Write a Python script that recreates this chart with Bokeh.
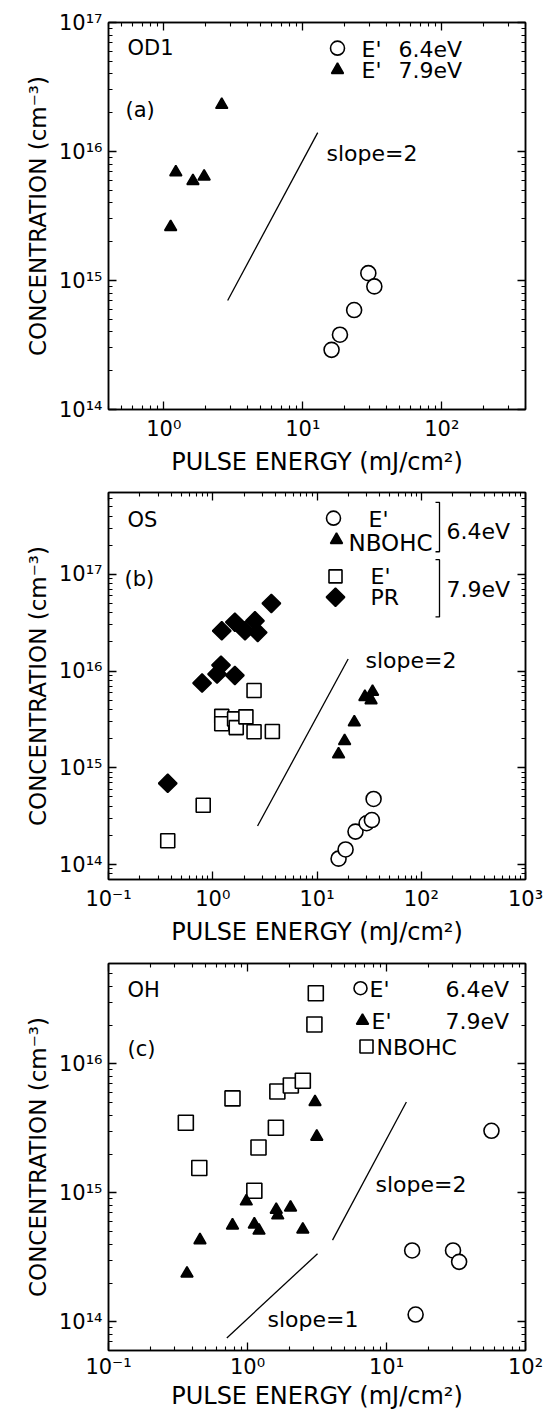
import numpy as np
from bokeh.plotting import figure
from bokeh.layouts import column
from bokeh.models import Range1d, LinearScale, LogAxis, FixedTicker, CustomJSTickFormatter
from bokeh.core.properties import value
from bokeh.embed import file_html
from bokeh.resources import INLINE

FONT = "DejaVu Sans"

# ---------------- Panel (a) OD1 ----------------
a_e64_x = [16.1, 18.5, 23.4, 29.6, 32.7]
a_e64_y = [2.9e14, 3.8e14, 5.9e14, 1.14e15, 9.0e14]
a_e79_x = [1.12, 1.22, 1.62, 1.95, 2.61]
a_e79_y = [2.6e15, 6.9e15, 5.9e15, 6.4e15, 2.3e16]
a_slope2_x = [2.88, 12.8]
a_slope2_y = [7.0e14, 1.4e16]

# ---------------- Panel (b) OS ----------------
b_e64_x = [16.1, 18.8, 23.4, 29.9, 33.6, 34.9]
b_e64_y = [1.15e14, 1.43e14, 2.19e14, 2.67e14, 2.88e14, 4.76e14]
b_nbohc64_x = [16.1, 18.4, 22.8, 28.8, 33.0, 34.1]
b_nbohc64_y = [1.38e15, 1.89e15, 2.95e15, 5.4e15, 5.0e15, 6.1e15]
b_e79_x = [0.37, 0.81, 1.22, 1.22, 1.62, 1.68, 2.08, 2.49, 2.49, 3.73]
b_e79_y = [1.76e14, 4.1e14, 3.4e15, 2.85e15, 3.2e15, 2.6e15, 3.36e15, 6.3e15, 2.36e15, 2.37e15]
b_pr79_x = [0.37, 0.79, 1.10, 1.20, 1.63, 1.22, 1.63, 2.04, 2.54, 2.70, 3.65]
b_pr79_y = [6.9e14, 7.5e15, 9.3e15, 1.15e16, 9.0e15, 2.6e16, 3.2e16, 2.6e16, 3.3e16, 2.5e16, 5.0e16]
b_slope2_x = [2.69, 19.9]
b_slope2_y = [2.5e14, 1.33e16]

# ---------------- Panel (c) OH ----------------
c_e64_x = [15.3, 16.2, 30.1, 33.3, 56.9]
c_e64_y = [3.58e14, 1.14e14, 3.58e14, 2.92e14, 3.03e15]
c_e79_x = [0.367, 0.455, 0.78, 0.98, 1.12, 1.21, 1.61, 1.65, 2.04, 2.50, 3.06, 3.15]
c_e79_y = [2.37e14, 4.3e14, 5.6e14, 8.6e14, 5.7e14, 5.1e14, 7.4e14, 6.7e14, 7.7e14, 5.2e14, 5.06e15, 2.73e15]
c_nbohc_x = [0.36, 0.45, 0.78, 1.12, 1.20, 1.60, 1.64, 2.05, 2.50, 3.03, 3.10]
c_nbohc_y = [3.5e15, 1.56e15, 5.4e15, 1.04e15, 2.25e15, 3.2e15, 6.1e15, 6.8e15, 7.4e15, 2.02e16, 3.53e16]
c_slope2_x = [4.09, 13.9]
c_slope2_y = [4.3e14, 5.06e15]
c_slope1_x = [0.71, 3.19]
c_slope1_y = [7.5e13, 3.38e14]

# axis ranges and tick decades
a_xrange, a_yrange = (0.4, 400), (1e14, 1e17)
b_xrange, b_yrange = (0.1, 1000), (7e13, 7e17)
c_xrange, c_yrange = (0.1, 100), (6e13, 6e16)
a_xdec, a_ydec = (-1, 3), (14, 17)
b_xdec, b_ydec = (-1, 3), (13, 17)
c_xdec, c_ydec = (-1, 2), (13, 16)

X_LABEL = "PULSE ENERGY (mJ/cm²)"
Y_LABEL = "CONCENTRATION (cm⁻³)"

W = 546
LEFT, RIGHT = 108, 21
FW = W - LEFT - RIGHT
FH = 392

SUP_JS = """
const sup = {"0":"\u2070","1":"\u00b9","2":"\u00b2","3":"\u00b3","4":"\u2074","5":"\u2075",
             "6":"\u2076","7":"\u2077","8":"\u2078","9":"\u2079","-":"\u207b"};
const e = Math.round(Math.log10(tick));
return "10" + String(e).split("").map(c => sup[c]).join("");
"""


def log_ticker(dec, lim):
    lo, hi = dec
    major = [10.0 ** e for e in range(lo, hi + 1) if lim[0] <= 10.0 ** e <= lim[1]]
    minor = [m * 10.0 ** e for e in range(lo, hi + 1) for m in range(2, 10)
             if lim[0] <= m * 10.0 ** e <= lim[1]]
    return FixedTicker(ticks=major, minor_ticks=minor)


def style_axis(ax, labels=True):
    ax.axis_line_color = "black"
    ax.axis_line_width = 1.5
    ax.major_tick_line_color = "black"
    ax.minor_tick_line_color = "black"
    ax.major_tick_line_width = 1.3
    ax.minor_tick_line_width = 1.1
    ax.major_tick_in = 8
    ax.major_tick_out = 0
    ax.minor_tick_in = 4
    ax.minor_tick_out = 0
    if labels:
        ax.formatter = CustomJSTickFormatter(code=SUP_JS)
        ax.major_label_text_font = FONT
        ax.major_label_text_font_size = "21px"
        ax.major_label_text_color = "black"
        ax.axis_label_text_font = FONT
        ax.axis_label_text_font_style = "normal"
        ax.axis_label_text_color = "black"
    else:
        ax.major_label_text_font_size = "1px"
        ax.major_label_text_alpha = 0.0
        ax.major_label_standoff = 0


def make_panel(xr, yr, xdec, ydec, height, top, bottom, tick_standoff, label_standoff):
    p = figure(width=W, height=height, x_axis_type="log", y_axis_type="log",
               x_range=Range1d(*xr), y_range=Range1d(*yr),
               output_backend="svg", toolbar_location=None,
               min_border_left=LEFT, min_border_right=RIGHT,
               min_border_top=top, min_border_bottom=bottom)
    p.grid.visible = False
    p.outline_line_color = "black"
    p.outline_line_width = 1.5
    p.background_fill_color = "white"
    p.border_fill_color = "white"

    p.xaxis.ticker = log_ticker(xdec, xr)
    p.yaxis.ticker = log_ticker(ydec, yr)
    for ax in p.xaxis:
        style_axis(ax)
        ax.axis_label = X_LABEL
        ax.axis_label_text_font_size = "24px"
        ax.major_label_standoff = tick_standoff
        ax.axis_label_standoff = label_standoff
    for ax in p.yaxis:
        style_axis(ax)
        ax.axis_label = Y_LABEL
        ax.axis_label_text_font_size = "23px"
        ax.major_label_standoff = 6
        ax.axis_label_standoff = 5

    top_ax = LogAxis(ticker=log_ticker(xdec, xr))
    style_axis(top_ax, labels=False)
    p.add_layout(top_ax, "above")
    right_ax = LogAxis(ticker=log_ticker(ydec, yr))
    style_axis(right_ax, labels=False)
    p.add_layout(right_ax, "right")

    # pixel coordinate system over the frame (origin at top-left) for annotations
    p.extra_x_ranges = {"px": Range1d(0, FW)}
    p.extra_y_ranges = {"px": Range1d(FH, 0)}
    p.extra_x_scales = {"px": LinearScale()}
    p.extra_y_scales = {"px": LinearScale()}
    return p


def txt(p, x, y, s, size="22px", align="left"):
    p.text(x=[x], y=[y], text=[s], x_range_name="px", y_range_name="px",
           text_font=value(FONT), text_font_size=size, text_color="black",
           text_baseline="middle", text_align=align)


def key(p, x, y, marker, size, filled, angle=0.0):
    p.scatter(x=[x], y=[y], marker=marker, size=size, angle=angle,
              x_range_name="px", y_range_name="px",
              fill_color="black" if filled else "white", line_color="black", line_width=1.6)


def pts(p, xs, ys, marker, size, filled, angle=0.0):
    p.scatter(xs, ys, marker=marker, size=size, angle=angle,
              fill_color="black" if filled else "white", line_color="black", line_width=1.6)


# ---------- (a) ----------
pa = make_panel(a_xrange, a_yrange, a_xdec, a_ydec, 478, 22, 64, 7, 4)
pa.line(a_slope2_x, a_slope2_y, line_color="black", line_width=1.3)
pts(pa, a_e64_x, a_e64_y, "circle", 15, False)
pts(pa, a_e79_x, a_e79_y, "triangle", 12, True)
txt(pa, 19, 26, "OD1", "21px")
txt(pa, 17, 89, "(a)", "21px")
key(pa, 229, 26, "circle", 14, False)
key(pa, 229, 48, "triangle", 12, True)
txt(pa, 253, 27, "E'")
txt(pa, 290, 27, "6.4eV")
txt(pa, 253, 49, "E'")
txt(pa, 290, 49, "7.9eV")
txt(pa, 218, 133, "slope=2")

# ---------- (b) ----------
pb = make_panel(b_xrange, b_yrange, b_xdec, b_ydec, 470, 14, 64, 7, 4)
pb.line(b_slope2_x, b_slope2_y, line_color="black", line_width=1.3)
pts(pb, b_e79_x, b_e79_y, "square", 14, False)
pts(pb, b_pr79_x, b_pr79_y, "square", 13, True, np.pi / 4)
pts(pb, b_e64_x, b_e64_y, "circle", 15, False)
pts(pb, b_nbohc64_x, b_nbohc64_y, "triangle", 12, True)
txt(pb, 19, 28, "OS", "21px")
txt(pb, 16, 88, "(b)", "21px")
key(pb, 225, 26, "circle", 14, False)
txt(pb, 260, 27, "E'")
key(pb, 228, 48, "triangle", 12, True)
txt(pb, 240, 51, "NBOHC", "23px")
key(pb, 227, 85, "square", 13, False)
txt(pb, 262, 85, "E'")
key(pb, 227, 106, "square", 13, True, np.pi / 4)
txt(pb, 262, 106, "PR")
pb.multi_line(xs=[[327, 331, 331, 327], [327, 331, 331, 327]],
              ys=[[10, 10, 60, 60], [68, 68, 126, 126]],
              x_range_name="px", y_range_name="px", line_color="black", line_width=1.3)
txt(pb, 338, 40, "6.4eV")
txt(pb, 338, 98, "7.9eV")
txt(pb, 257, 170, "slope=2")

# ---------- (c) ----------
pc = make_panel(c_xrange, c_yrange, c_xdec, c_ydec, 464, 15, 57, 4, 0)
pc.line(c_slope2_x, c_slope2_y, line_color="black", line_width=1.3)
pc.line(c_slope1_x, c_slope1_y, line_color="black", line_width=1.3)
pts(pc, c_nbohc_x, c_nbohc_y, "square", 15, False)
pts(pc, c_e79_x, c_e79_y, "triangle", 12, True)
pts(pc, c_e64_x, c_e64_y, "circle", 15, False)
txt(pc, 19, 27, "OH", "21px")
txt(pc, 19, 87, "(c)", "21px")
key(pc, 252, 25, "circle", 13, False)
txt(pc, 261, 26, "E'")
txt(pc, 337, 26, "6.4eV")
key(pc, 254, 58, "triangle", 12, True)
txt(pc, 263, 59, "E'")
txt(pc, 337, 59, "7.9eV")
key(pc, 258, 84, "square", 13, False)
txt(pc, 268, 85, "NBOHC")
txt(pc, 267, 224, "slope=2")
txt(pc, 159, 361, "slope=1")

layout = column(pa, pb, pc, spacing=0)
open("out.html", "w").write(file_html(layout, INLINE))
